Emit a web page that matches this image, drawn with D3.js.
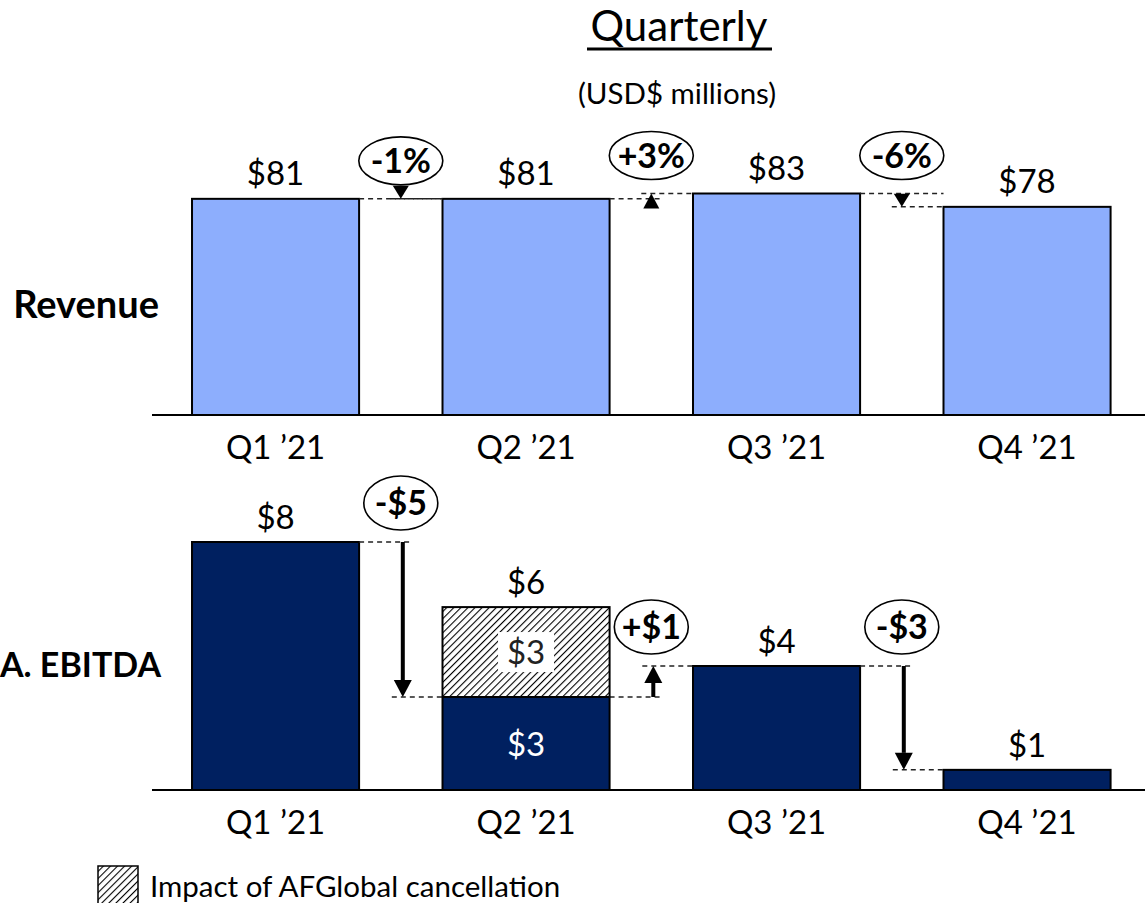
<!DOCTYPE html>
<html>
<head>
<meta charset="utf-8">
<script src="https://cdn.jsdelivr.net/npm/d3@7"></script>
<style>
  body { margin: 0; background: #fff; }
  text { font-family: Lato, "Liberation Sans", sans-serif; fill: #000; }
</style>
</head>
<body>
<div id="chart"></div>
<script>
// data
const quarters = ["Q1 ’21", "Q2 ’21", "Q3 ’21", "Q4 ’21"];
const revenue = [81, 81, 83, 78];
const revenueLabels = ["$81", "$81", "$83", "$78"];
const revenueChanges = ["-1%", "+3%", "-6%"];
const ebitdaBase = [8.0, 3.0, 4.0, 0.65];
const afglobalImpact = [0, 2.9, 0, 0];
const ebitdaLabels = ["$8", "$6", "$4", "$1"];
const ebitdaChanges = ["-$5", "+$1", "-$3"];
const splitLabels = ["$3", "$3"]; // Q2: base, AFGlobal impact

const W = 1145, H = 903;
const lightBlue = "#8DAEFD", navy = "#002060";

const svg = d3.select("#chart").append("svg")
    .attr("width", W)
    .attr("height", H);

// hatch pattern
const defs = svg.append("defs");
defs.append("pattern")
    .attr("id", "hatch")
    .attr("patternUnits", "userSpaceOnUse")
    .attr("width", 5)
    .attr("height", 5)
    .attr("patternTransform", "rotate(45)")
    .call(p => {
        p.append("rect").attr("width", 5).attr("height", 5).attr("fill", "#fff");
        p.append("line").attr("x1", 0).attr("y1", 0).attr("x2", 0).attr("y2", 5)
            .attr("stroke", "#000").attr("stroke-width", 2.2);
    });

const x = d3.scaleBand()
    .domain(quarters)
    .range([108.6, 1194])
    .padding(0.333);

const yRev = d3.scaleLinear().domain([0, 83]).range([415, 193.5]);
const yEb = d3.scaleLinear().domain([0, 8]).range([790, 542]);

// titles
svg.append("text")
    .attr("x", 679).attr("y", 41)
    .attr("text-anchor", "middle")
    .attr("font-size", 42)
    .text("Quarterly");
svg.append("line")
    .attr("x1", 587).attr("x2", 772)
    .attr("y1", 49).attr("y2", 49)
    .attr("stroke", "#000").attr("stroke-width", 3);
svg.append("text")
    .attr("x", 677).attr("y", 104)
    .attr("text-anchor", "middle")
    .attr("font-size", 29.5)
    .text("(USD$ millions)");

svg.append("text")
    .attr("x", 159).attr("y", 318)
    .attr("text-anchor", "end")
    .attr("font-size", 38).attr("font-weight", "bold")
    .text("Revenue");
svg.append("text")
    .attr("x", 161).attr("y", 677)
    .attr("text-anchor", "end")
    .attr("font-size", 34).attr("font-weight", "bold")
    .text("A. EBITDA");

function midX(i) {
    return (x(quarters[i]) + x.bandwidth() + x(quarters[i + 1])) / 2;
}

function dashed(g, x1, x2, y) {
    g.append("line")
        .attr("x1", x1).attr("x2", x2)
        .attr("y1", y).attr("y2", y)
        .attr("stroke", "#222").attr("stroke-width", 1.5)
        .attr("stroke-dasharray", "5,4");
}

function bubble(g, cx, cy, rx, ry, label) {
    g.append("ellipse")
        .attr("cx", cx).attr("cy", cy)
        .attr("rx", rx).attr("ry", ry)
        .attr("fill", "#fff").attr("stroke", "#000").attr("stroke-width", 1.6);
    g.append("text")
        .attr("x", cx).attr("y", cy + 12)
        .attr("text-anchor", "middle")
        .attr("font-size", 34).attr("font-weight", "bold")
        .text(label);
}

// ---------- Revenue ----------
const gTop = svg.append("g");

gTop.selectAll("rect.rev")
    .data(revenue)
    .join("rect")
    .attr("class", "rev")
    .attr("x", (d, i) => x(quarters[i]))
    .attr("y", d => yRev(d))
    .attr("width", x.bandwidth())
    .attr("height", d => yRev(0) - yRev(d))
    .attr("fill", lightBlue)
    .attr("stroke", "#000").attr("stroke-width", 2);

gTop.append("line")
    .attr("x1", 152).attr("x2", W)
    .attr("y1", yRev(0)).attr("y2", yRev(0))
    .attr("stroke", "#000").attr("stroke-width", 2);

gTop.selectAll("text.val")
    .data(revenueLabels)
    .join("text")
    .attr("class", "val")
    .attr("x", (d, i) => x(quarters[i]) + x.bandwidth() / 2)
    .attr("y", (d, i) => yRev(revenue[i]) - 14)
    .attr("text-anchor", "middle")
    .attr("font-size", 33)
    .text(d => d);

gTop.selectAll("text.cat")
    .data(quarters)
    .join("text")
    .attr("class", "cat")
    .attr("x", d => x(d) + x.bandwidth() / 2)
    .attr("y", 459)
    .attr("text-anchor", "middle")
    .attr("font-size", 33)
    .text(d => d);

revenueChanges.forEach((lab, i) => {
    const mx = midX(i);
    const y0 = yRev(revenue[i]), y1 = yRev(revenue[i + 1]);
    const up = revenue[i + 1] > revenue[i];
    dashed(gTop, x(quarters[i]) + x.bandwidth(), up ? mx + 10 : Math.max(mx + 10, x(quarters[i + 1])), y0);
    dashed(gTop, mx - 10, x(quarters[i + 1]), y1);
    const h = up ? 15 : -13;
    gTop.append("path")
        .attr("d", `M${mx},${y1} L${mx - 8},${y1 + h} L${mx + 8},${y1 + h} Z`)
        .attr("fill", "#000");
    bubble(gTop, mx, Math.min(y0, y1) - 38, 42, 24, lab);
});

// ---------- Adj. EBITDA ----------
const gBot = svg.append("g");

gBot.selectAll("rect.base")
    .data(ebitdaBase)
    .join("rect")
    .attr("class", "base")
    .attr("x", (d, i) => x(quarters[i]))
    .attr("y", d => yEb(d))
    .attr("width", x.bandwidth())
    .attr("height", d => yEb(0) - yEb(d))
    .attr("fill", navy)
    .attr("stroke", "#000").attr("stroke-width", 2);

gBot.selectAll("rect.impact")
    .data(afglobalImpact.map((d, i) => ({v: d, i: i})).filter(d => d.v > 0))
    .join("rect")
    .attr("class", "impact")
    .attr("x", d => x(quarters[d.i]))
    .attr("y", d => yEb(ebitdaBase[d.i] + d.v))
    .attr("width", x.bandwidth())
    .attr("height", d => yEb(ebitdaBase[d.i]) - yEb(ebitdaBase[d.i] + d.v))
    .attr("fill", "url(#hatch)")
    .attr("stroke", "#000").attr("stroke-width", 2);

gBot.append("line")
    .attr("x1", 152).attr("x2", W)
    .attr("y1", yEb(0)).attr("y2", yEb(0))
    .attr("stroke", "#000").attr("stroke-width", 2);

gBot.selectAll("text.val")
    .data(ebitdaLabels)
    .join("text")
    .attr("class", "val")
    .attr("x", (d, i) => x(quarters[i]) + x.bandwidth() / 2)
    .attr("y", (d, i) => yEb(ebitdaBase[i] + afglobalImpact[i]) - 13)
    .attr("text-anchor", "middle")
    .attr("font-size", 33)
    .text(d => d);

// split labels inside Q2
const q2 = x(quarters[1]) + x.bandwidth() / 2;
const yMidImpact = (yEb(ebitdaBase[1]) + yEb(ebitdaBase[1] + afglobalImpact[1])) / 2;
gBot.append("rect")
    .attr("x", q2 - 28).attr("y", yMidImpact - 20)
    .attr("width", 56).attr("height", 40)
    .attr("fill", "#fff");
gBot.append("text")
    .attr("x", q2).attr("y", yMidImpact + 12)
    .attr("text-anchor", "middle")
    .attr("font-size", 33)
    .style("fill", "#222")
    .text(splitLabels[1]);
gBot.append("text")
    .attr("x", q2).attr("y", (yEb(0) + yEb(ebitdaBase[1])) / 2 + 12)
    .attr("text-anchor", "middle")
    .attr("font-size", 33)
    .style("fill", "#fff")
    .text(splitLabels[0]);

gBot.selectAll("text.cat")
    .data(quarters)
    .join("text")
    .attr("class", "cat")
    .attr("x", d => x(d) + x.bandwidth() / 2)
    .attr("y", 834)
    .attr("text-anchor", "middle")
    .attr("font-size", 33)
    .text(d => d);

ebitdaChanges.forEach((lab, i) => {
    const mx = midX(i);
    const ax = mx + 2;
    const y0 = yEb(ebitdaBase[i]), y1 = yEb(ebitdaBase[i + 1]);
    const up = y1 < y0;
    dashed(gBot, x(quarters[i]) + x.bandwidth(), ax + 9, y0);
    dashed(gBot, ax - 11, x(quarters[i + 1]), y1);
    const head = up ? 17 : -17;
    gBot.append("line")
        .attr("x1", ax).attr("x2", ax)
        .attr("y1", y0).attr("y2", y1 + head)
        .attr("stroke", "#000").attr("stroke-width", 4);
    gBot.append("path")
        .attr("d", `M${ax},${y1} L${ax - 9},${y1 + head} L${ax + 9},${y1 + head} Z`)
        .attr("fill", "#000");
    bubble(gBot, mx, Math.min(y0, y1) - 39, 37, 27, lab);
});

// legend
const leg = svg.append("g");
leg.append("rect")
    .attr("x", 98).attr("y", 866)
    .attr("width", 40).attr("height", 40)
    .attr("fill", "url(#hatch)")
    .attr("stroke", "#000").attr("stroke-width", 1.5);
leg.append("text")
    .attr("x", 150).attr("y", 897)
    .attr("font-size", 29.5)
    .text("Impact of AFGlobal cancellation");
</script>
</body>
</html>
